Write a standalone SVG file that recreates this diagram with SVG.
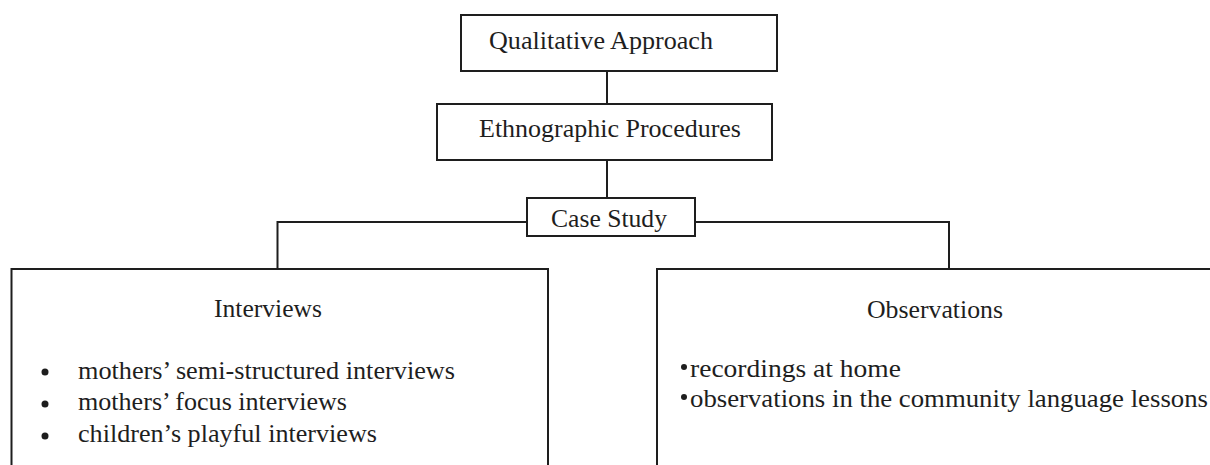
<svg xmlns="http://www.w3.org/2000/svg" width="1210" height="465" viewBox="0 0 1210 465">
  <style>
    .box { fill: #ffffff; stroke: #1e1e1e; stroke-width: 2; }
    .edge { fill: none; stroke: #1e1e1e; stroke-width: 2; }
    .open { fill: none; stroke: #1e1e1e; stroke-width: 2; }
    text { font-family: "Liberation Serif", "Times New Roman", serif; font-size: 26px; fill: #1e1e1e; }
    .dot { fill: #1e1e1e; }
  </style>
  <rect width="1210" height="465" fill="#ffffff"/>

  <g id="connectors">
    <line class="edge" x1="607" y1="71" x2="607" y2="104"/>
    <line class="edge" x1="607" y1="160" x2="607" y2="198"/>
    <polyline class="edge" points="527,222 277.5,222 277.5,269"/>
    <polyline class="edge" points="695,222 949,222 949,269"/>
  </g>

  <g id="qualitative-approach">
    <rect class="box" x="461" y="15" width="316" height="56"/>
    <text x="489" y="49" textLength="224" lengthAdjust="spacingAndGlyphs">Qualitative Approach</text>
  </g>

  <g id="ethnographic-procedures">
    <rect class="box" x="437" y="104" width="335" height="56"/>
    <text x="479" y="137" textLength="262" lengthAdjust="spacingAndGlyphs">Ethnographic Procedures</text>
  </g>

  <g id="case-study">
    <rect class="box" x="527" y="198" width="168" height="38"/>
    <text x="551" y="227" textLength="116" lengthAdjust="spacingAndGlyphs">Case Study</text>
  </g>

  <g id="interviews">
    <polyline class="open" points="11.5,470 11.5,269 548,269 548,470"/>
    <text x="214" y="317" textLength="108" lengthAdjust="spacingAndGlyphs">Interviews</text>
    <circle class="dot" cx="45" cy="372" r="3.5"/>
    <circle class="dot" cx="45" cy="404" r="3.5"/>
    <circle class="dot" cx="45" cy="436" r="3.5"/>
    <text x="78" y="379" textLength="377" lengthAdjust="spacingAndGlyphs">mothers’ semi-structured interviews</text>
    <text x="78" y="410" textLength="269" lengthAdjust="spacingAndGlyphs">mothers’ focus interviews</text>
    <text x="78" y="442" textLength="299" lengthAdjust="spacingAndGlyphs">children’s playful interviews</text>
  </g>

  <g id="observations">
    <polyline class="open" points="657,470 657,269 1215,269"/>
    <text x="867" y="318" textLength="136" lengthAdjust="spacingAndGlyphs">Observations</text>
    <circle class="dot" cx="684" cy="367" r="3"/>
    <circle class="dot" cx="684" cy="397" r="3"/>
    <text x="690" y="377" textLength="211" lengthAdjust="spacingAndGlyphs">recordings at home</text>
    <text x="690" y="407" textLength="518" lengthAdjust="spacingAndGlyphs">observations in the community language lessons</text>
  </g>
</svg>
